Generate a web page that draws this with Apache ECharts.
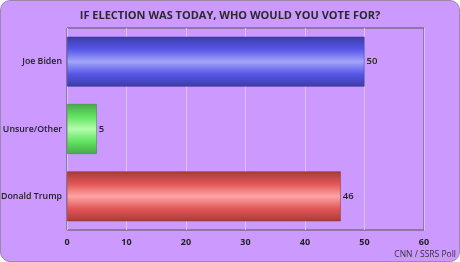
<!DOCTYPE html>
<html>
<head>
<meta charset="utf-8">
<script src="https://cdn.jsdelivr.net/npm/echarts@6/dist/echarts.min.js"></script>
<style>
html,body{margin:0;padding:0;background:#fff;}
#c{width:458px;height:260px;background:#CC99FF;border:1px solid #9a8aa8;border-radius:10px;overflow:hidden;}
</style>
</head>
<body>
<div id="c"></div>
<script>
var categories = ['Donald Trump', 'Unsure/Other', 'Joe Biden'];
var values = [46, 5, 50];
var xTicks = [0, 10, 20, 30, 40, 50, 60];

function grad(dark, mid, light) {
  return new echarts.graphic.LinearGradient(0, 0, 0, 1, [
    {offset: 0, color: dark},
    {offset: 0.25, color: mid},
    {offset: 0.5, color: light},
    {offset: 0.75, color: mid},
    {offset: 1, color: dark}
  ]);
}
var colors = [
  grad('#A83A3A', '#E25656', '#FFA4A4'),
  grad('#48A848', '#62E462', '#B4FCAC'),
  grad('#3C3CA8', '#5656E8', '#A4A4FA')
];
var borders = ['#8a3030', '#3a8a3a', '#30308a'];

var chart = echarts.init(document.getElementById('c'));
chart.setOption({
  animation: false,
  textStyle: {fontFamily: 'Open Sans'},
  title: {
    text: 'IF ELECTION WAS TODAY, WHO WOULD YOU VOTE FOR?',
    left: 'center', top: 4,
    textStyle: {fontSize: 11, fontWeight: 'bold', color: '#2a2a2a', fontFamily: 'Open Sans'}
  },
  graphic: [{
    type: 'text', right: 3, bottom: 2,
    style: {text: 'CNN / SSRS Poll', fontSize: 8.5, fill: '#333', fontFamily: 'Open Sans'}
  }],
  grid: {left: 66, right: 35, top: 27, bottom: 31, containLabel: false, outerBoundsMode: 'none',
    show: true, borderColor: '#555', borderWidth: 1, backgroundColor: 'transparent'},
  xAxis: {
    type: 'value', min: 0, max: 60, interval: 10,
    axisLine: {show: false}, axisTick: {show: false},
    splitLine: {show: true, lineStyle: {color: '#DDC0F5', width: 1}},
    axisLabel: {color: '#222', fontSize: 9, fontWeight: 'bold', margin: 8,
      formatter: function (v) { return xTicks.indexOf(v) >= 0 ? String(v) : ''; }}
  },
  yAxis: {
    type: 'category', data: categories,
    axisLine: {show: false}, axisTick: {show: false},
    axisLabel: {color: '#222', fontSize: 8.8, fontWeight: 600, margin: 5}
  },
  series: [{
    type: 'bar', barWidth: '74%',
    data: values.map(function (v, i) {
      return {value: v, itemStyle: {color: colors[i], borderColor: borders[i], borderWidth: 0.5}};
    }),
    label: {show: true, position: 'right', distance: 2, color: '#222', fontSize: 9.5, fontWeight: 600}
  }]
});
</script>
</body>
</html>
